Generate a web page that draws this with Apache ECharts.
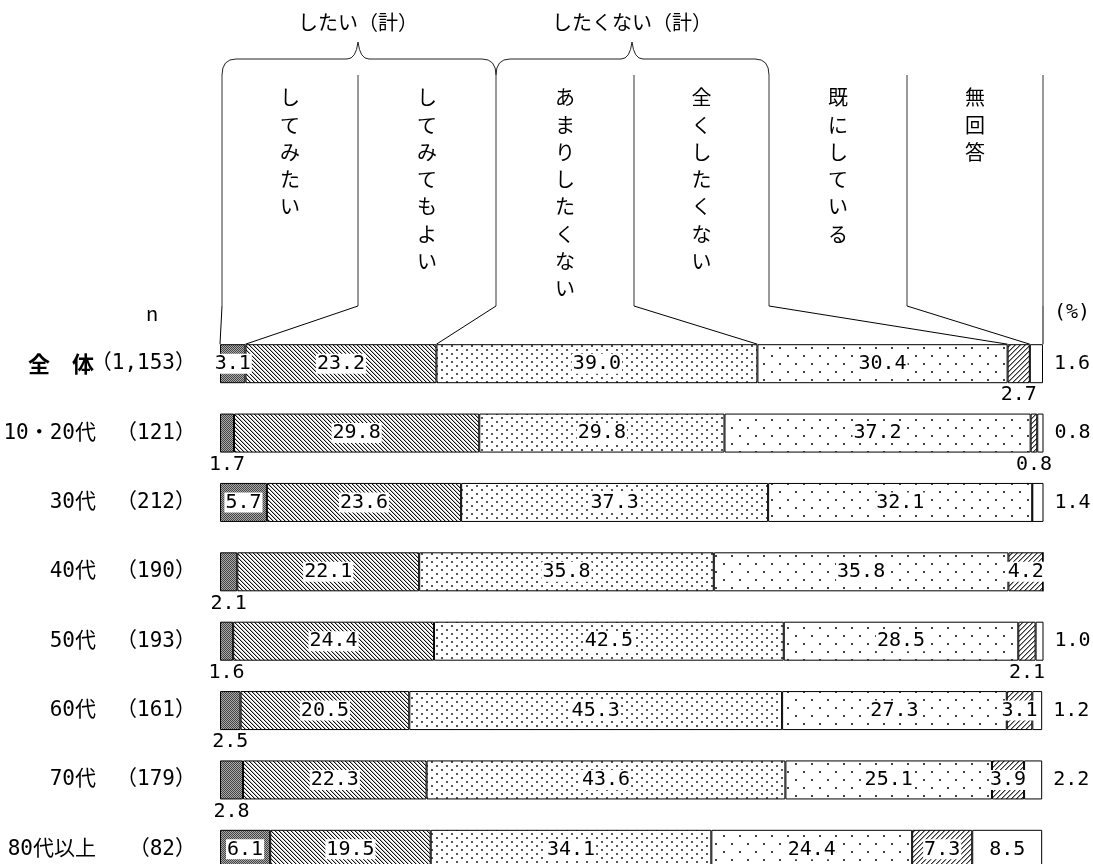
<!DOCTYPE html>
<html>
<head>
<meta charset="utf-8">
<script src="https://cdn.jsdelivr.net/npm/echarts/dist/echarts.min.js"></script>
<style>
html, body { margin: 0; padding: 0; background: #fff; }
#container { width: 1093px; height: 864px; }
</style>
</head>
<body>
<div id="container"></div>
<script>
// 行ラベル・サンプル数
var categories = ['全　体', '10・20代', '30代', '40代', '50代', '60代', '70代', '80代以上'];
var sampleSizes = ['1,153', '121', '212', '190', '193', '161', '179', '82'];
// 列見出し
var seriesNames = ['してみたい', 'してみてもよい', 'あまりしたくない', '全くしたくない', '既にしている', '無回答'];
var groupNames = ['したい（計）', 'したくない（計）'];
// 値 (%)
var wantData = [3.1, 1.7, 5.7, 2.1, 1.6, 2.5, 2.8, 6.1];
var okData = [23.2, 29.8, 23.6, 22.1, 24.4, 20.5, 22.3, 19.5];
var ratherNotData = [39.0, 29.8, 37.3, 35.8, 42.5, 45.3, 43.6, 34.1];
var notAtAllData = [30.4, 37.2, 32.1, 35.8, 28.5, 27.3, 25.1, 24.4];
var alreadyData = [2.7, 0.8, 0, 4.2, 2.1, 3.1, 3.9, 7.3];
var noAnswerData = [1.6, 0.8, 1.4, 0, 1.0, 1.2, 2.2, 8.5];

var numFont = "'DejaVu Sans Mono', 'Noto Sans CJK JP', monospace";
var jpFont = "'Noto Sans CJK JP', sans-serif";
var numSize = 20;

var dom = document.getElementById('container');
var myChart = echarts.init(dom, null, { renderer: 'canvas' });

// 塗りパターン
function makePattern(w, h, draw) {
    var c = document.createElement('canvas');
    c.width = w;
    c.height = h;
    var ctx = c.getContext('2d');
    ctx.fillStyle = '#fff';
    ctx.fillRect(0, 0, w, h);
    draw(ctx);
    return { image: c, repeat: 'repeat' };
}
var checkerFill = makePattern(2, 2, function (ctx) {
    ctx.fillStyle = '#444';
    ctx.fillRect(0, 0, 1, 1);
    ctx.fillRect(1, 1, 1, 1);
    ctx.fillStyle = '#aaa';
    ctx.fillRect(1, 0, 1, 1);
    ctx.fillRect(0, 1, 1, 1);
});
var backslashFill = makePattern(4, 4, function (ctx) {
    for (var i = 0; i < 4; i++) {
        ctx.fillStyle = '#111';
        ctx.fillRect(i, i, 1, 1);
        ctx.fillStyle = '#bbb';
        ctx.fillRect((i + 1) % 4, i, 1, 1);
    }
});
var denseDotFill = makePattern(10, 8, function (ctx) {
    ctx.fillStyle = '#555';
    ctx.fillRect(1, 1, 2, 2);
    ctx.fillRect(6, 5, 2, 2);
});
var sparseDotFill = makePattern(16, 16, function (ctx) {
    ctx.fillStyle = '#444';
    ctx.fillRect(3, 3, 2, 2);
    ctx.fillRect(11, 11, 2, 2);
});
var slashFill = makePattern(5, 5, function (ctx) {
    for (var y = 0; y < 5; y++) {
        ctx.fillStyle = '#333';
        ctx.fillRect(4 - y, y, 1, 1);
        ctx.fillStyle = '#999';
        ctx.fillRect((5 - y) % 5, y, 1, 1);
    }
});
var fills = [checkerFill, backslashFill, denseDotFill, sparseDotFill, slashFill, '#fff'];

// 小さい値のラベル位置
function makeData(values, smallPos, limit) {
    return values.map(function (v) {
        var item = { value: v };
        if (v === 0) {
            item.label = { show: false };
        } else if (v < limit) {
            item.label = { position: smallPos, distance: smallPos === 'right' ? 10 : 2 };
        }
        return item;
    });
}

var allData = [
    makeData(wantData, 'bottom', 3),
    makeData(okData, 'inside', 0),
    makeData(ratherNotData, 'inside', 0),
    makeData(notAtAllData, 'inside', 0),
    makeData(alreadyData, 'bottom', 3),
    makeData(noAnswerData, 'right', 5)
];

var barWidth = 39;

var series = seriesNames.map(function (name, i) {
    return {
        name: name,
        type: 'bar',
        stack: 'total',
        barWidth: barWidth,
        animation: false,
        itemStyle: {
            color: fills[i],
            borderColor: '#000',
            borderWidth: 1
        },
        label: {
            show: true,
            position: 'inside',
            color: '#000',
            fontFamily: numFont,
            fontSize: numSize,
            backgroundColor: '#fff',
            padding: [0, 1, 0, 1],
            formatter: function (p) {
                return p.value ? p.value.toFixed(1) : '';
            }
        },
        data: allData[i]
    };
});

var option = {
    backgroundColor: '#fff',
    animation: false,
    grid: {
        left: 220,
        width: 823,
        top: 329,
        height: 555,
        outerBoundsMode: 'none'
    },
    xAxis: {
        type: 'value',
        min: 0,
        max: 100,
        show: false
    },
    yAxis: {
        type: 'category',
        inverse: true,
        data: categories,
        axisLine: { show: false },
        axisTick: { show: false },
        splitLine: { show: false },
        axisLabel: {
            margin: 24,
            formatter: function (value, idx) {
                if (idx === 0) {
                    return '{ab|' + value + '}{bb|（' + sampleSizes[idx] + '）}';
                }
                return '{a|' + value + '}{b|（' + sampleSizes[idx] + '）}';
            },
            rich: {
                a: { width: 96, align: 'right', fontFamily: numFont, fontSize: 21, color: '#000' },
                b: { width: 100, align: 'right', fontFamily: numFont, fontSize: 21, color: '#000' },
                ab: { width: 94, align: 'right', fontFamily: jpFont, fontSize: 22, fontWeight: 'bold', color: '#000' },
                bb: { width: 102, align: 'right', fontFamily: numFont, fontSize: 21, color: '#000' }
            }
        }
    },
    series: series
};

myChart.setOption(option);

// 見出し・引き出し線
var colLines = [222, 358, 496, 634, 769, 907, 1043];
var colTop = 75;
var colBottom = 306;
var graphics = [];

function line(x1, y1, x2, y2, color, width) {
    return {
        type: 'line',
        shape: { x1: x1, y1: y1, x2: x2, y2: y2 },
        style: { stroke: color, lineWidth: width },
        silent: true
    };
}
function curve(x1, y1, cx, cy, x2, y2) {
    return {
        type: 'bezierCurve',
        shape: { x1: x1, y1: y1, cpx1: cx, cpy1: cy, x2: x2, y2: y2 },
        style: { stroke: '#222', lineWidth: 1, fill: null },
        silent: true
    };
}
function brace(left, peak, right, label) {
    var yh = 59, yp = 42;
    graphics.push(curve(left, colTop, left, yh, left + 14, yh));
    graphics.push(line(left + 14, yh, peak - 11, yh, '#222', 1));
    graphics.push(curve(peak - 11, yh, peak - 2, yh, peak, yp));
    graphics.push(curve(peak, yp, peak + 2, yh, peak + 11, yh));
    graphics.push(line(peak + 11, yh, right - 14, yh, '#222', 1));
    graphics.push(curve(right - 14, yh, right, yh, right, colTop));
    graphics.push({
        type: 'text',
        x: peak,
        y: 22,
        style: {
            text: label,
            fontFamily: jpFont,
            fontSize: 20,
            fill: '#000',
            textAlign: 'center',
            textVerticalAlign: 'middle'
        },
        silent: true
    });
}
brace(colLines[0], 358, colLines[2], groupNames[0]);
brace(colLines[2], 632, colLines[4], groupNames[1]);

colLines.forEach(function (x) {
    graphics.push(line(x, colTop, x, colBottom, '#999', 2));
});

seriesNames.forEach(function (name, i) {
    var cx = (colLines[i] + colLines[i + 1]) / 2;
    graphics.push({
        type: 'text',
        x: cx,
        y: 84,
        style: {
            text: name.split('').join('\n'),
            fontFamily: jpFont,
            fontSize: 20,
            lineHeight: 27.3,
            fill: '#000',
            textAlign: 'center',
            textVerticalAlign: 'top'
        },
        silent: true
    });
});

// 全体の区切り位置へ引き出し線
var cum = 0;
var bounds = [0];
seriesNames.forEach(function (name, i) {
    cum += allData[i][0].value;
    bounds.push(Math.min(cum, 100));
});
bounds[bounds.length - 1] = 100;
var rowY = myChart.convertToPixel({ yAxisIndex: 0 }, categories[0]);
var barTop = rowY - barWidth / 2;
colLines.forEach(function (x, i) {
    var bx = myChart.convertToPixel({ xAxisIndex: 0 }, bounds[i]);
    graphics.push(line(x, colBottom, bx, barTop, '#000', 1));
});

graphics.push({
    type: 'text', x: 152, y: 313,
    style: { text: 'n', fontFamily: jpFont, fontSize: 20, fill: '#000', textAlign: 'center', textVerticalAlign: 'middle' },
    silent: true
});
graphics.push({
    type: 'text', x: 1072, y: 313,
    style: { text: '(%)', fontFamily: numFont, fontSize: 20, fill: '#000', textAlign: 'center', textVerticalAlign: 'middle' },
    silent: true
});

myChart.setOption({ graphic: graphics });
</script>
</body>
</html>
